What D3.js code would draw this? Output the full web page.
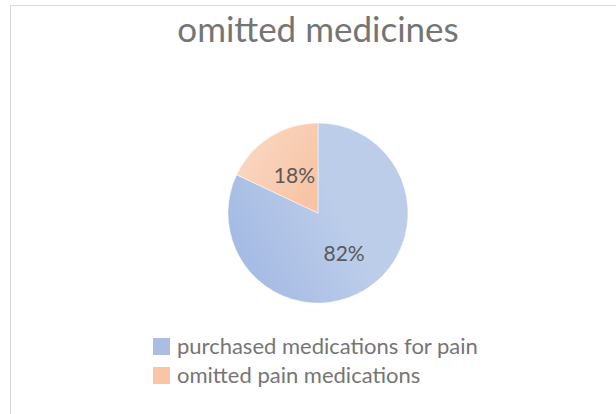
<!DOCTYPE html>
<html>
<head>
<meta charset="utf-8">
<script src="https://cdn.jsdelivr.net/npm/d3@7"></script>
<style>
  body { margin: 0; background: #fff; }
  text { font-family: Lato, "Open Sans", sans-serif; }
</style>
</head>
<body>
<div id="chart"></div>
<script>
// data
const categories = ["purchased medications for pain", "omitted pain medications"];
const shares = [82, 18];
const labels = ["82%", "18%"];
const chartTitle = "omitted medicines";

const width = 616, height = 414;
const cx = 318, cy = 213, radius = 90;

const svg = d3.select("#chart").append("svg")
    .attr("width", width)
    .attr("height", height);

// gradients roughly like the office fill (coords relative to pie centre)
const defs = svg.append("defs");
const grads = [
    { x1: -radius, y1: radius * 0.5, x2: radius * 0.2, y2: -radius * 0.1, stops: ["#a3b9e3", "#bccdea"] },
    { x1: -radius * 0.8, y1: -radius * 0.8, x2: 0, y2: -radius * 0.3, stops: ["#fad7c1", "#f7c4a4"] }
];
grads.forEach((gr, i) => {
    const lg = defs.append("linearGradient")
        .attr("id", "grad" + i)
        .attr("gradientUnits", "userSpaceOnUse")
        .attr("x1", gr.x1).attr("y1", gr.y1)
        .attr("x2", gr.x2).attr("y2", gr.y2);
    lg.append("stop").attr("offset", "0%").attr("stop-color", gr.stops[0]);
    lg.append("stop").attr("offset", "100%").attr("stop-color", gr.stops[1]);
});

const legendColors = ["#a9bde5", "#f8c6a7"];

// border
svg.append("path")
    .attr("d", `M10.5,${height}V5.5H${width}`)
    .attr("fill", "none")
    .attr("stroke", "#d9d9d9")
    .attr("stroke-width", 1);

svg.append("text")
    .attr("x", cx)
    .attr("y", 42)
    .attr("text-anchor", "middle")
    .attr("fill", "#757575")
    .style("font-size", "35px")
    .text(chartTitle);

const pie = d3.pie().sort(null)(shares);
const arc = d3.arc().innerRadius(0).outerRadius(radius);

const g = svg.append("g").attr("transform", `translate(${cx},${cy})`);

g.selectAll("path.slice")
    .data(pie)
    .join("path")
    .attr("class", "slice")
    .attr("d", arc)
    .attr("fill", (d, i) => `url(#grad${i})`)
    .attr("stroke", "#fff")
    .attr("stroke-width", 0.5);

const labelDist = [radius * 0.54, radius * 0.49];

g.selectAll("text.pct")
    .data(pie)
    .join("text")
    .attr("class", "pct")
    .attr("transform", (d, i) => {
        const c = d3.arc().innerRadius(labelDist[i]).outerRadius(labelDist[i]).centroid(d);
        return `translate(${c})`;
    })
    .attr("dy", "0.35em")
    .attr("text-anchor", "middle")
    .attr("fill", "#595959")
    .style("font-size", "21px")
    .text((d, i) => labels[i]);

// legend
const legend = svg.append("g").attr("transform", "translate(153,338)");
const rows = legend.selectAll("g")
    .data(categories)
    .join("g")
    .attr("transform", (d, i) => `translate(0,${i * 29})`);

rows.append("rect")
    .attr("width", 17)
    .attr("height", 17)
    .attr("fill", (d, i) => legendColors[i]);

rows.append("text")
    .attr("x", 24)
    .attr("y", 16)
    .attr("fill", "#757575")
    .style("font-size", "22px")
    .text(d => d);
</script>
</body>
</html>
